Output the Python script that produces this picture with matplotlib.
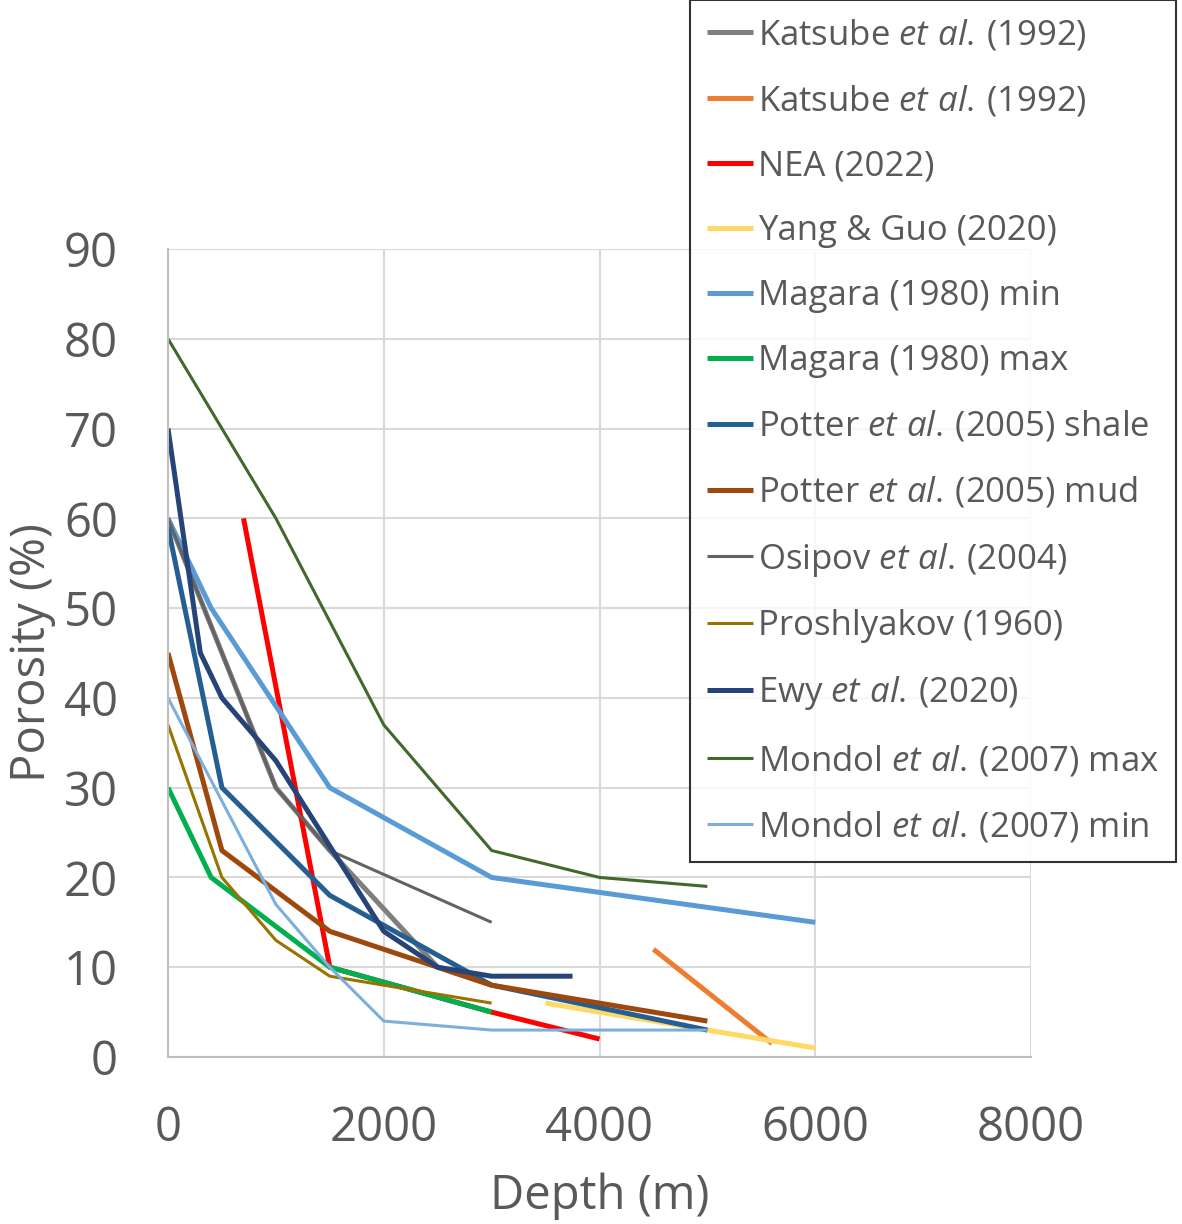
import matplotlib
matplotlib.use("Agg")
import matplotlib.pyplot as plt

plt.rcParams['font.family'] = ['Open Sans', 'DejaVu Sans']
plt.rcParams['mathtext.fontset'] = 'custom'
plt.rcParams['mathtext.it'] = 'Open Sans:italic'
plt.rcParams['mathtext.rm'] = 'Open Sans'

# depth (m) / porosity (%)
katsube_gray_x = [0, 1000, 1500, 2500, 3000]
katsube_gray_y = [60, 30, 23, 10, 8]
katsube_orange_x = [4500, 5600]
katsube_orange_y = [12, 1.5]
nea_x = [700, 1500, 3000, 4000]
nea_y = [60, 10, 5, 2]
yang_x = [3500, 5000, 6000]
yang_y = [6, 3, 1]
magara_min_x = [0, 400, 1500, 3000, 6000]
magara_min_y = [60, 50, 30, 20, 15]
magara_max_x = [0, 400, 1500, 3000]
magara_max_y = [30, 20, 10, 5]
potter_shale_x = [0, 500, 1500, 3000, 5000]
potter_shale_y = [59, 30, 18, 8, 3]
potter_mud_x = [0, 500, 1500, 3000, 5000]
potter_mud_y = [45, 23, 14, 8, 4]
osipov_x = [0, 1000, 1500, 3000]
osipov_y = [60, 30, 23, 15]
proshlyakov_x = [0, 500, 1000, 1500, 3000]
proshlyakov_y = [37, 20, 13, 9, 6]
ewy_x = [0, 300, 500, 1000, 2000, 2500, 3000, 3750]
ewy_y = [70, 45, 40, 33, 14, 10, 9, 9]
mondol_max_x = [0, 1000, 2000, 3000, 4000, 5000]
mondol_max_y = [80, 60, 37, 23, 20, 19]
mondol_min_x = [0, 1000, 1500, 2000, 3000, 5000]
mondol_min_y = [40, 17, 10, 4, 3, 3]

ETAL = r'$\it{et\ al.}\,$'
series = [
    (katsube_gray_x, katsube_gray_y, f'Katsube {ETAL}(1992)', '#7F7F7F', 3.6),
    (katsube_orange_x, katsube_orange_y, f'Katsube {ETAL}(1992)', '#ED7D31', 3.6),
    (nea_x, nea_y, 'NEA (2022)', '#FF0000', 3.6),
    (yang_x, yang_y, 'Yang & Guo (2020)', '#FFD966', 3.6),
    (magara_min_x, magara_min_y, 'Magara (1980) min', '#5B9BD5', 3.6),
    (magara_max_x, magara_max_y, 'Magara (1980) max', '#00B050', 3.6),
    (potter_shale_x, potter_shale_y, f'Potter {ETAL}(2005) shale', '#255E91', 3.6),
    (potter_mud_x, potter_mud_y, f'Potter {ETAL}(2005) mud', '#9E480E', 3.6),
    (osipov_x, osipov_y, f'Osipov {ETAL}(2004)', '#636363', 2.2),
    (proshlyakov_x, proshlyakov_y, 'Proshlyakov (1960)', '#997300', 2.2),
    (ewy_x, ewy_y, f'Ewy {ETAL}(2020)', '#264478', 3.6),
    (mondol_max_x, mondol_max_y, f'Mondol {ETAL}(2007) max', '#43682B', 2.2),
    (mondol_min_x, mondol_min_y, f'Mondol {ETAL}(2007) min', '#7CAFDD', 2.2),
]

fig = plt.figure(figsize=(11.82, 12.24), dpi=100)
ax = fig.add_axes([168 / 1182, 1 - 1057 / 1224, (1031 - 168) / 1182, (1057 - 249) / 1224])

for x, y, label, color, lw in series:
    ax.plot(x, y, color=color, lw=lw, label=label, solid_capstyle='butt')

ax.set_xlim(0, 8000)
ax.set_ylim(0, 90)
ax.set_xticks(range(0, 8001, 2000))
ax.set_yticks(range(0, 91, 10))
ax.grid(True, color='#D9D9D9', lw=1.5)
ax.set_axisbelow(True)
for s in ['top', 'right']:
    ax.spines[s].set_visible(False)
for s in ['left', 'bottom']:
    ax.spines[s].set_color('#BFBFBF')
    ax.spines[s].set_linewidth(1.5)
ax.tick_params(length=0, labelsize=34, colors='#595959')
ax.tick_params(axis='y', pad=36)
ax.tick_params(axis='x', pad=34)
ax.set_xlabel('Depth (m)', fontsize=34, color='#595959', labelpad=15)
ax.set_ylabel('Porosity (%)', fontsize=34, color='#595959', labelpad=6)

handles, labels = ax.get_legend_handles_labels()
leg = fig.legend(handles, labels, loc='upper left', bbox_to_anchor=(690 / 1182, 1.0),
                 fontsize=25, frameon=True, fancybox=False, edgecolor='black',
                 labelcolor='#595959', handlelength=1.3, handletextpad=0.15,
                 labelspacing=0.89, borderpad=0.5, borderaxespad=0)
leg.get_frame().set_linewidth(1.5)

fig.savefig('out.png', dpi=100)
